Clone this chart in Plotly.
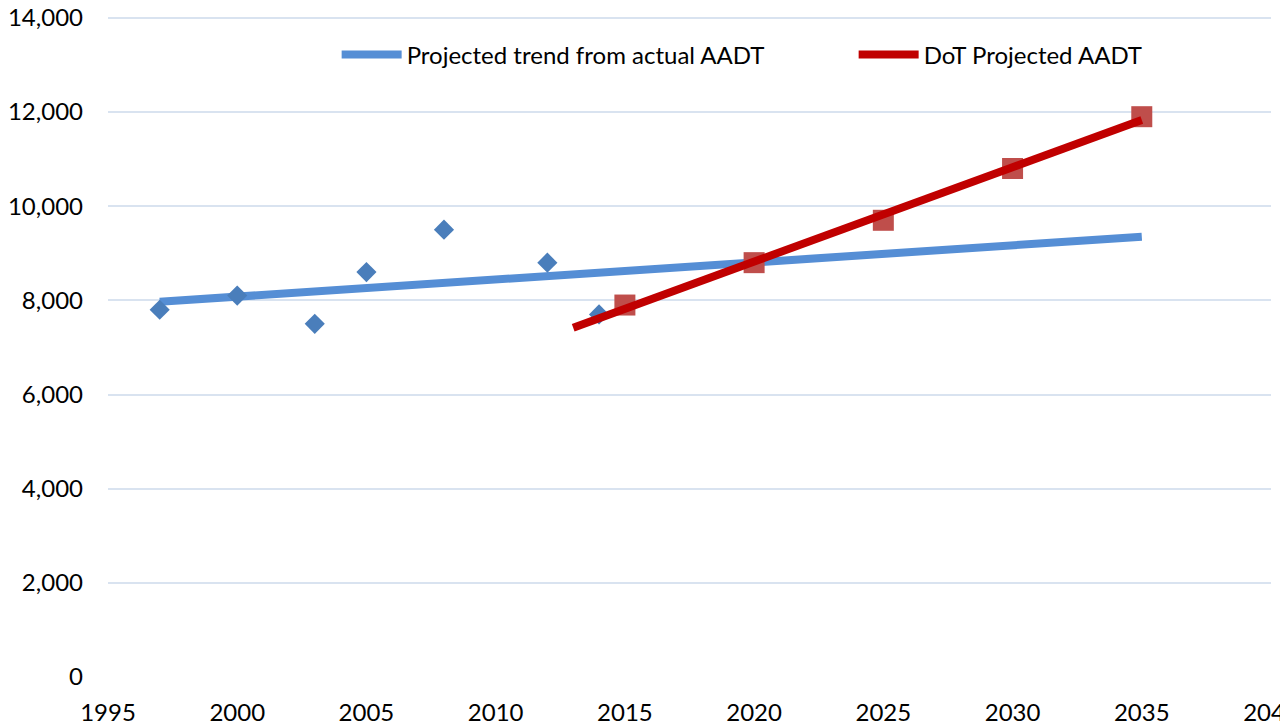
import plotly.graph_objects as go

# actual AADT counts
actual_years = [1997, 2000, 2003, 2005, 2008, 2012, 2014]
actual_aadt = [7800, 8100, 7500, 8600, 9500, 8800, 7700]

# DoT projections
dot_years = [2015, 2020, 2025, 2030, 2035]
dot_aadt = [7900, 8800, 9700, 10800, 11900]

# trend lines (end points)
trend_years = [1997, 2035]
trend_aadt = [7970, 9350]
dot_line_years = [2013, 2035]
dot_line_aadt = [7420, 11830]

FONT = "Lato"

fig = go.Figure()

fig.add_scatter(x=trend_years, y=trend_aadt, mode="lines",
                name="Projected trend from actual AADT",
                line=dict(color="#558ED5", width=8))
fig.add_scatter(x=actual_years, y=actual_aadt, mode="markers",
                showlegend=False,
                marker=dict(symbol="diamond", size=15.5, color="#4A7EBB"))
fig.add_scatter(x=dot_years, y=dot_aadt, mode="markers",
                showlegend=False,
                marker=dict(symbol="square", size=21, color="#BF4E4B"))
fig.add_scatter(x=dot_line_years, y=dot_line_aadt, mode="lines",
                name="DoT Projected AADT",
                line=dict(color="#C00000", width=8))

# page body adds an 8px offset, margins account for it;
# y range a bit above 14000 so the top gridline is drawn
fig.update_layout(
    width=1288, height=723,
    margin=dict(l=100, r=25, t=7, b=54, autoexpand=False),
    paper_bgcolor="white", plot_bgcolor="white",
    font=dict(family=FONT, size=24, color="#000000"),
    legend=dict(orientation="h", x=0.1966, y=0.9396, xanchor="left", yanchor="middle",
                itemwidth=60, entrywidth=442, bgcolor="rgba(0,0,0,0)",
                font=dict(family=FONT, size=24)),
    xaxis=dict(range=[1995, 2040], dtick=5, tick0=1995, showgrid=False,
               zeroline=False, showline=False, ticks="", automargin=False,
               ticklabeloverflow="allow", ticklabelstandoff=19),
    yaxis=dict(range=[0, 14060], dtick=2000, tickformat=",", showgrid=True,
               gridcolor="#D9E3F0", gridwidth=1.5, zeroline=False, showline=False,
               ticks="", automargin=False, ticklabeloverflow="allow",
               ticklabelstandoff=24),
)

fig.write_html("out.html")
